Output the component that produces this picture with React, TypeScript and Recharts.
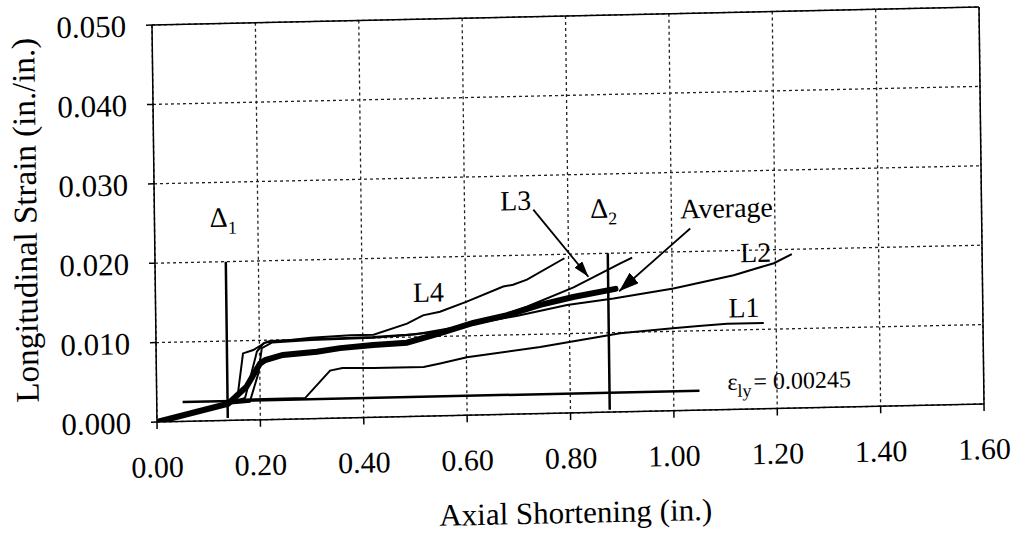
import React from 'react';
import { LineChart, Line, XAxis, YAxis, CartesianGrid, ReferenceLine, ReferenceDot } from 'recharts';

const FONT = '"Liberation Serif", "Times New Roman", serif';

// axis ticks
const xTicks = [0, 0.2, 0.4, 0.6, 0.8, 1.0, 1.2, 1.4, 1.6];
const yTicks = [0, 0.01, 0.02, 0.03, 0.04, 0.05];

// Average (bold curve)
const avgX = [0, 0.138, 0.174, 0.201, 0.211, 0.245, 0.311, 0.356, 0.42, 0.485, 0.55, 0.614, 0.68, 0.744, 0.808, 0.89];
const avgY = [0, 0.0021, 0.0042, 0.0071, 0.0075, 0.0081, 0.0084, 0.0088, 0.0091, 0.0093, 0.0104, 0.0116, 0.0125, 0.0137, 0.0146, 0.0155];

// gauge L1
const l1X = [0, 0.138, 0.16, 0.287, 0.336, 0.36, 0.42, 0.517, 0.549, 0.601, 0.743, 0.898, 1.0, 1.05, 1.105, 1.176];
const l1Y = [0, 0.0021, 0.0026, 0.0026, 0.006, 0.0063, 0.0062, 0.0062, 0.0066, 0.0073, 0.0084, 0.0099, 0.0104, 0.0106, 0.0108, 0.0108];

// gauge L2
const l2X = [0, 0.138, 0.18, 0.197, 0.2045, 0.225, 0.3, 0.42, 0.5, 0.6, 0.7, 0.796, 0.886, 1.002, 1.119, 1.197, 1.232];
const l2Y = [0, 0.0021, 0.0023, 0.0058, 0.009, 0.0097, 0.0099, 0.01, 0.0103, 0.0113, 0.0124, 0.0136, 0.0143, 0.0154, 0.0169, 0.0183, 0.0194];

// gauge L3
const l3X = [0, 0.138, 0.171, 0.195, 0.208, 0.22, 0.3, 0.42, 0.485, 0.55, 0.614, 0.666, 0.718, 0.809, 0.9, 0.923];
const l3Y = [0, 0.0021, 0.0028, 0.0086, 0.0096, 0.0099, 0.01, 0.0101, 0.0103, 0.0106, 0.0117, 0.0124, 0.0135, 0.0158, 0.0187, 0.0194];

// gauge L4
const l4X = [0, 0.138, 0.156, 0.168, 0.188, 0.211, 0.3, 0.376, 0.421, 0.486, 0.517, 0.55, 0.602, 0.673, 0.692, 0.719, 0.792];
const l4Y = [0, 0.0021, 0.0028, 0.0084, 0.0088, 0.0097, 0.0102, 0.0104, 0.0104, 0.0117, 0.0127, 0.0131, 0.0143, 0.0161, 0.0163, 0.0169, 0.0195];

// yield strain and the two displacement markers
const yieldX = [0.05, 1.05];
const yieldY = [0.00245, 0.00245];
const delta1X = [0.137, 0.137];
const delta2X = [0.876, 0.876];
const deltaY = [0.0003, 0.02];

// arrows (tail, tip)
const arrowL3X = [0.733, 0.838];
const arrowL3Y = [0.0257, 0.0171];
const arrowAvgX = [1.036, 0.897];
const arrowAvgY = [0.0229, 0.0152];

// annotations
const noteText = ['\u0394', 'L4', 'L3', '\u0394', 'Average', 'L2', 'L1', '\u03b5'];
const noteSub = ['1', '', '', '2', '', '', '', 'ly'];
const noteRest = ['', '', '', '', '', '', '', '= 0.00245'];
const noteX = [0.107, 0.498, 0.669, 0.843, 1.017, 1.132, 1.108, 1.104];
const noteY = [0.0244, 0.0144, 0.0257, 0.0245, 0.0242, 0.0185, 0.0116, 0.00246];

const pts = (xs: number[], ys: number[]) => xs.map((x, i) => ({ x, y: ys[i] }));

const thin = { stroke: '#000', strokeWidth: 2, dot: false, activeDot: false, isAnimationActive: false, type: 'linear' as const };

const App = () => {
  return (
    <div
      style={{
        position: 'absolute',
        left: 0,
        top: 0,
        width: 1023,
        height: 546,
        fontFamily: FONT,
        transformOrigin: '152px 25px',
        transform: 'matrix(1, -0.0218, 0.0126, 1, 0, 0)',
      }}
    >
      <LineChart width={1023} height={546} margin={{ top: 25, right: 44, left: 52, bottom: 64 }}>
        <defs>
          <marker id="headSmall" viewBox="0 0 16 10" refX="16" refY="5" markerWidth="16" markerHeight="10" markerUnits="userSpaceOnUse" orient="auto">
            <path d="M0,0 L16,5 L0,10 z" fill="#000" />
          </marker>
          <marker id="headBig" viewBox="0 0 20 14" refX="20" refY="7" markerWidth="20" markerHeight="14" markerUnits="userSpaceOnUse" orient="auto">
            <path d="M0,0 L20,7 L0,14 z" fill="#000" />
          </marker>
        </defs>
        <CartesianGrid stroke="#222" strokeWidth={1.3} strokeDasharray="3 3" />
        <XAxis
          type="number"
          dataKey="x"
          domain={[0, 1.6]}
          ticks={xTicks}
          tickFormatter={(v) => v.toFixed(2)}
          height={60}
          tickSize={7}
          tickMargin={27}
          axisLine={{ stroke: '#000', strokeWidth: 1.5 }}
          tickLine={{ stroke: '#000', strokeWidth: 1.5 }}
          tick={{ fontSize: 30, fill: '#000', fontFamily: FONT }}
          allowDataOverflow
          label={{
            content: (p: any) => (
              <text x={p.viewBox.x + p.viewBox.width / 2 + 4} y={p.viewBox.y + 110} textAnchor="middle" fontSize={31} fill="#000" fontFamily={FONT}>
                Axial Shortening (in.)
              </text>
            ),
          }}
        />
        <YAxis
          type="number"
          dataKey="y"
          domain={[0, 0.05]}
          ticks={yTicks}
          tickFormatter={(v) => v.toFixed(3)}
          width={100}
          tickSize={6}
          tickMargin={20}
          axisLine={{ stroke: '#000', strokeWidth: 1.5 }}
          tickLine={{ stroke: '#000', strokeWidth: 1.5 }}
          tick={{ fontSize: 31, fill: '#000', fontFamily: FONT }}
          allowDataOverflow
          label={{
            content: (p: any) => {
              const cx = p.viewBox.x - 29;
              const cy = p.viewBox.y + p.viewBox.height / 2 - 6;
              return (
                <text x={cx} y={cy} transform={`rotate(-90 ${cx} ${cy})`} textAnchor="middle" dominantBaseline="central" fontSize={33} fill="#000" fontFamily={FONT}>
                  Longitudinal Strain (in./in.)
                </text>
              );
            },
          }}
        />
        <ReferenceLine y={0.05} stroke="#000" strokeWidth={1.5} />
        <ReferenceLine x={1.6} stroke="#000" strokeWidth={1.5} />

        <Line data={pts(yieldX, yieldY)} dataKey="y" {...thin} strokeWidth={2.5} />
        <Line data={pts(l1X, l1Y)} dataKey="y" {...thin} />
        <Line data={pts(l2X, l2Y)} dataKey="y" {...thin} />
        <Line data={pts(l3X, l3Y)} dataKey="y" {...thin} />
        <Line data={pts(l4X, l4Y)} dataKey="y" {...thin} />
        <Line data={pts(avgX, avgY)} dataKey="y" {...thin} strokeWidth={6} strokeLinecap="round" />
        <Line data={pts(delta1X, deltaY)} dataKey="y" {...thin} strokeWidth={2.5} />
        <Line data={pts(delta2X, deltaY)} dataKey="y" {...thin} strokeWidth={2.5} />
        <Line data={pts(arrowL3X, arrowL3Y)} dataKey="y" {...thin} strokeWidth={1.8} markerEnd="url(#headSmall)" />
        <Line data={pts(arrowAvgX, arrowAvgY)} dataKey="y" {...thin} strokeWidth={1.8} markerEnd="url(#headBig)" />

        {noteText.map((t, i) => (
          <ReferenceDot
            key={i}
            x={noteX[i]}
            y={noteY[i]}
            r={0}
            shape={(p: any) => (
              <text x={p.cx} y={p.cy} fontSize={i === 7 ? 24 : 28} fill="#000" fontFamily={FONT}>
                {t}
                {noteSub[i] && (
                  <tspan fontSize={18} dy={7}>
                    {noteSub[i]}
                  </tspan>
                )}
                {noteRest[i] && (
                  <tspan fontSize={24} dy={-7} dx={2}>
                    {noteRest[i]}
                  </tspan>
                )}
              </text>
            )}
          />
        ))}
      </LineChart>
    </div>
  );
};

export default App;
